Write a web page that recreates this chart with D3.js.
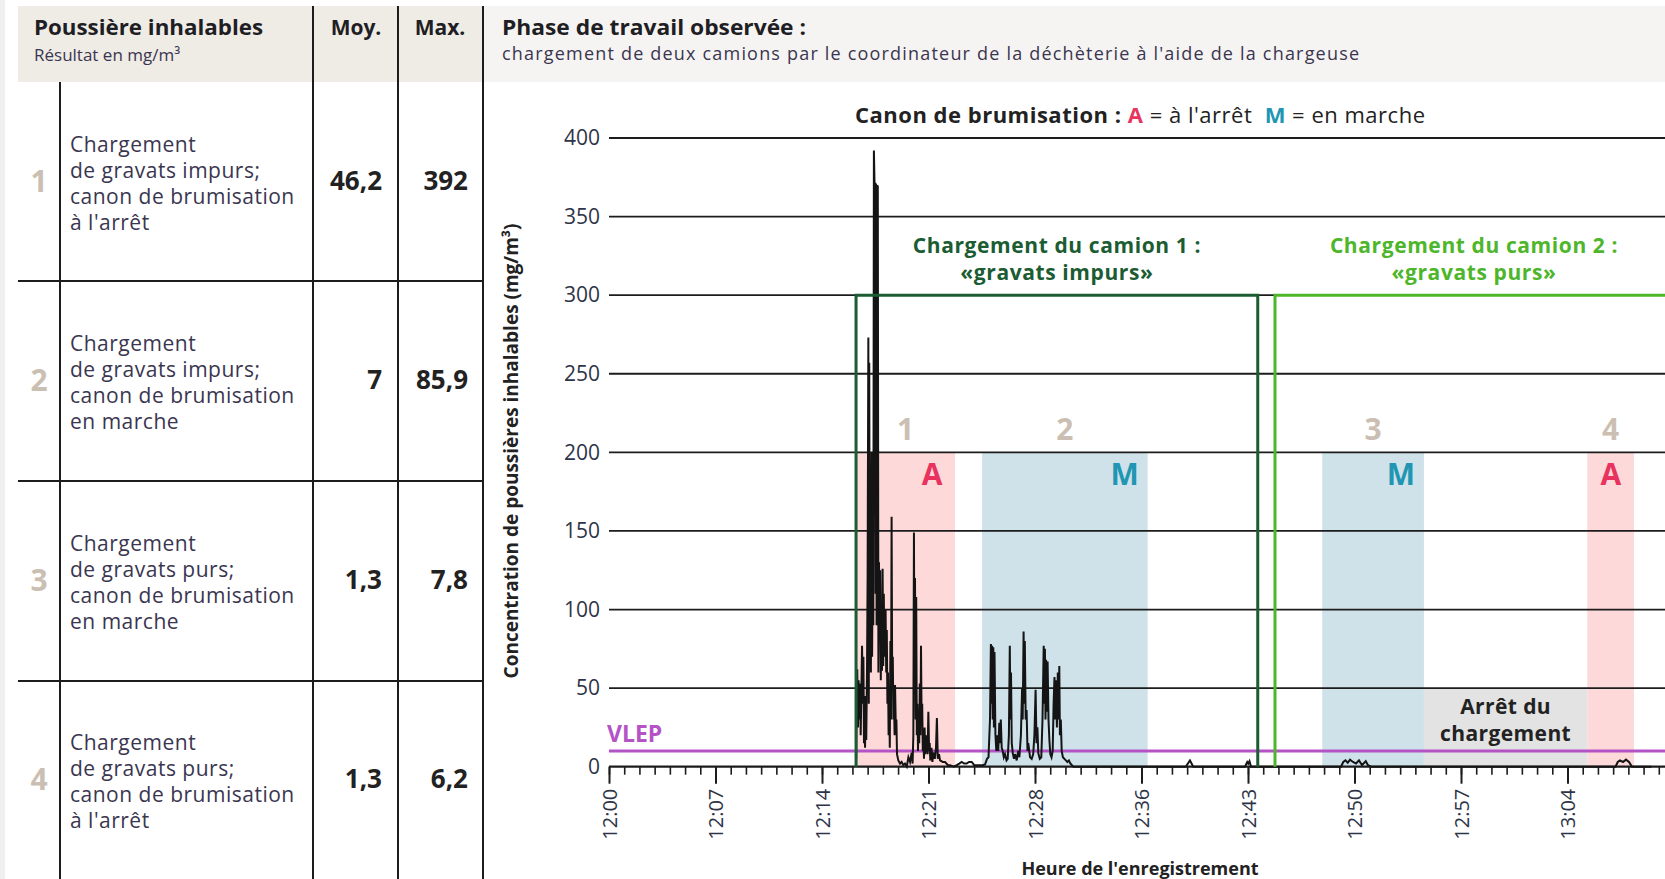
<!DOCTYPE html>
<html><head><meta charset="utf-8">
<script src="https://cdn.jsdelivr.net/npm/d3@7"></script>
<style>
html,body{margin:0;padding:0;background:#fff;}
svg{display:block;font-family:"Open Sans",sans-serif;}
</style></head><body>
<svg id="c" width="1665" height="879"></svg>
<script>
// ---------------- DATA ----------------
const rowNumbers = ["1", "2", "3", "4"];
const rowLabels = [
  ["Chargement", "de gravats impurs;", "canon de brumisation", "à l'arrêt"],
  ["Chargement", "de gravats impurs;", "canon de brumisation", "en marche"],
  ["Chargement", "de gravats purs;", "canon de brumisation", "en marche"],
  ["Chargement", "de gravats purs;", "canon de brumisation", "à l'arrêt"]
];
const meanValues = ["46,2", "7", "1,3", "1,3"];
const maxValues = ["392", "85,9", "7,8", "6,2"];

const yTickValues = [0, 50, 100, 150, 200, 250, 300, 350, 400];
const xTickLabels = ["12:00", "12:07", "12:14", "12:21", "12:28", "12:36", "12:43", "12:50", "12:57", "13:04"];
const xTickStep = 7.1;      // minutes between labelled ticks
const xMinorPerMajor = 7;
const xDomainMax = 70.4;    // minutes after 12:00 at right edge

const vlepValue = 10;

// phases: id, brumisation mode (A/M), start/end in minutes after 12:00
const phaseIds = ["1", "2", "3", "4"];
const phaseModes = ["A", "M", "M", "A"];
const phaseStart = [16.47, 24.87, 47.55, 65.22];
const phaseEnd = [23.07, 35.91, 54.33, 68.33];
const phaseTop = 200;

const stopStart = 54.33, stopEnd = 65.22, stopTop = 50;

const truckTitles = [["Chargement du camion 1 :", "«gravats impurs»"], ["Chargement du camion 2 :", "«gravats purs»"]];
const truckStart = [16.47, 44.4];
const truckEnd = [43.25, 80];
const truckTop = 300;

// measured concentration: [minutes after 12:00, mg/m³]
const dustSamples = [
  [16.48, 5], [16.50, 40], [16.55, 62], [16.60, 25], [16.64, 55], [16.68, 30], [16.73, 53], [16.78, 20],
  [16.82, 45], [16.87, 77], [16.92, 40], [16.96, 70], [17.00, 15], [17.04, 30], [17.07, 12], [17.11, 45],
  [17.15, 17], [17.20, 60], [17.24, 120], [17.29, 273], [17.32, 40], [17.35, 257], [17.38, 100], [17.42, 180],
  [17.46, 60], [17.50, 200], [17.54, 70], [17.58, 140], [17.62, 90], [17.66, 392], [17.70, 372], [17.74, 371],
  [17.77, 110], [17.80, 371], [17.84, 90], [17.88, 370], [17.92, 369], [17.96, 60], [18.00, 130], [18.04, 80],
  [18.08, 125], [18.12, 55], [18.16, 100], [18.20, 61], [18.24, 126], [18.28, 64], [18.32, 110], [18.36, 70],
  [18.40, 83], [18.44, 100], [18.48, 60], [18.52, 87], [18.56, 40], [18.60, 60], [18.64, 20], [18.68, 44],
  [18.72, 12], [18.76, 80], [18.80, 30], [18.84, 159], [18.88, 50], [18.92, 70], [18.96, 30], [19.00, 42],
  [19.04, 20], [19.07, 52], [19.12, 25], [19.16, 30], [19.20, 8], [19.29, 4], [19.40, 2], [19.51, 3],
  [19.62, 1], [19.73, 2], [19.85, 0], [19.96, 6], [20.07, 3], [20.18, 9], [20.24, 2], [20.29, 20],
  [20.33, 149], [20.36, 60], [20.40, 120], [20.44, 30], [20.48, 108], [20.52, 20], [20.56, 40], [20.60, 10],
  [20.64, 30], [20.68, 15], [20.72, 53], [20.76, 20], [20.80, 77], [20.84, 30], [20.88, 40], [20.92, 10],
  [20.96, 17], [21.00, 5], [21.04, 25], [21.08, 8], [21.13, 13], [21.18, 20], [21.24, 8], [21.29, 35],
  [21.34, 10], [21.38, 15], [21.42, 4], [21.50, 12], [21.56, 3], [21.62, 9], [21.72, 5], [21.80, 12],
  [21.86, 31], [21.92, 5], [22.00, 8], [22.07, 4], [22.25, 3], [22.40, 3], [22.60, 1], [22.73, 1],
  [23.00, 0], [23.18, 1], [23.35, 2], [23.51, 3], [23.68, 2], [23.84, 2], [24.00, 3], [24.18, 3],
  [24.35, 1], [24.51, 1], [24.70, 1], [24.90, 1], [25.07, 1.4], [25.20, 5], [25.30, 6], [25.40, 30],
  [25.46, 78], [25.50, 40], [25.54, 77], [25.58, 30], [25.62, 76], [25.66, 25], [25.70, 73], [25.76, 21],
  [25.82, 10], [25.88, 20], [25.95, 10], [26.02, 28], [26.07, 15], [26.12, 30], [26.18, 12], [26.25, 10],
  [26.32, 6], [26.40, 8], [26.50, 4], [26.58, 5], [26.66, 20], [26.72, 77], [26.76, 30], [26.80, 60],
  [26.85, 15], [26.92, 8.5], [27.00, 5], [27.07, 8], [27.18, 4], [27.28, 10], [27.36, 6], [27.46, 20],
  [27.54, 50], [27.58, 30], [27.64, 86], [27.68, 40], [27.72, 80], [27.78, 30], [27.84, 36], [27.90, 10],
  [27.95, 15], [28.07, 6], [28.18, 5], [28.28, 8], [28.36, 20], [28.44, 49], [28.50, 15], [28.56, 25],
  [28.62, 8.5], [28.72, 5], [28.82, 6], [28.90, 30], [28.98, 77], [29.02, 40], [29.06, 75], [29.10, 30],
  [29.14, 68], [29.18, 35], [29.24, 67], [29.30, 30], [29.36, 17], [29.42, 8], [29.50, 6], [29.58, 10],
  [29.64, 40], [29.70, 57], [29.74, 30], [29.80, 55], [29.86, 25], [29.92, 60], [29.97, 30], [30.02, 64],
  [30.06, 20], [30.12, 30], [30.18, 10], [30.26, 6], [30.36, 5], [30.46, 4], [30.56, 3], [30.66, 4],
  [30.76, 2], [30.86, 1], [30.96, 0], [38.45, 0], [38.73, 4], [38.95, 0], [42.40, 0], [42.55, 3],
  [42.62, 2], [42.70, 3.5], [42.80, 0], [48.80, 0], [48.95, 3], [49.10, 4], [49.25, 2.5], [49.40, 4.5],
  [49.60, 3], [49.80, 2], [50.00, 4], [50.20, 1], [50.45, 3.5], [50.60, 1], [50.80, 0], [67.10, 0],
  [67.25, 3], [67.40, 4], [67.60, 3], [67.80, 4.5], [68.00, 3], [68.20, 0], [69.50, 0]
];

// ---------------- DRAWING ----------------
const svg = d3.select("#c");
const ink = "#1c1c1c";
const txt = "#3a3650";
const beigeNum = "#cbbfb3";
const colA = "#e8335f", colM = "#2196b3";
const darkGreen = "#1b5c32", lightGreen = "#4db62a";
const vlepCol = "#b453c6";

// page strip + headers
svg.append("rect").attr("x", 0).attr("y", 0).attr("width", 5).attr("height", 879).attr("fill", "#efefef");
svg.append("rect").attr("x", 18).attr("y", 6).attr("width", 465).attr("height", 76).attr("fill", "#efebe5");
svg.append("rect").attr("x", 483).attr("y", 6).attr("width", 1182).attr("height", 76).attr("fill", "#f5f4f2");

svg.append("text").attr("x", 34).attr("y", 35).attr("font-size", 21).attr("font-weight", 700).attr("fill", "#1e1e24")
  .attr("textLength", 229).attr("lengthAdjust", "spacingAndGlyphs").text("Poussière inhalables");
svg.append("text").attr("x", 34).attr("y", 61).attr("font-size", 17).attr("fill", txt).text("Résultat en mg/m³");
svg.append("text").attr("x", 356).attr("y", 35).attr("text-anchor", "middle").attr("font-size", 21).attr("font-weight", 700).attr("fill", "#1e1e24").text("Moy.");
svg.append("text").attr("x", 440).attr("y", 35).attr("text-anchor", "middle").attr("font-size", 21).attr("font-weight", 700).attr("fill", "#1e1e24").text("Max.");
svg.append("text").attr("x", 502).attr("y", 35).attr("font-size", 21).attr("font-weight", 700).attr("fill", "#1e1e24")
  .attr("textLength", 304).attr("lengthAdjust", "spacingAndGlyphs").text("Phase de travail observée :");
svg.append("text").attr("x", 502).attr("y", 60).attr("font-size", 18).attr("fill", txt)
  .attr("textLength", 857).attr("lengthAdjust", "spacing").text("chargement de deux camions par le coordinateur de la déchèterie à l'aide de la chargeuse");

// table lines
const tl = svg.append("g").attr("stroke", ink).attr("stroke-width", 2);
[313, 398, 483].forEach(x => tl.append("line").attr("x1", x).attr("x2", x).attr("y1", 6).attr("y2", 879));
tl.append("line").attr("x1", 60).attr("x2", 60).attr("y1", 82).attr("y2", 879);
[281, 481, 681].forEach(y => tl.append("line").attr("x1", 18).attr("x2", 483).attr("y1", y).attr("y2", y));

const rowTop = [82, 281, 481, 681];
const rowBottom = [281, 481, 681, 879];
rowNumbers.forEach((n, i) => {
  const cy = (rowTop[i] + rowBottom[i]) / 2;
  svg.append("text").attr("x", 39).attr("y", cy + 10).attr("text-anchor", "middle").attr("font-size", 30)
    .attr("font-weight", 700).attr("fill", beigeNum).text(n);
  rowLabels[i].forEach((line, j) => {
    svg.append("text").attr("x", 70).attr("y", cy - 30 + j * 26).attr("font-size", 21)
      .attr("letter-spacing", 0.5).attr("fill", txt).text(line);
  });
  svg.append("text").attr("x", 382).attr("y", cy + 8).attr("text-anchor", "end").attr("font-size", 26)
    .attr("font-weight", 700).attr("fill", "#222").text(meanValues[i]);
  svg.append("text").attr("x", 468).attr("y", cy + 8).attr("text-anchor", "end").attr("font-size", 26)
    .attr("font-weight", 700).attr("fill", "#222").text(maxValues[i]);
});

// chart scales
const x = d3.scaleLinear().domain([0, xDomainMax]).range([609, 1665]);
const y = d3.scaleLinear().domain([0, 400]).range([766.7, 138]);

const chart = svg.append("g");

// phase bands
phaseIds.forEach((id, i) => {
  chart.append("rect").attr("x", x(phaseStart[i])).attr("y", y(phaseTop))
    .attr("width", x(phaseEnd[i]) - x(phaseStart[i])).attr("height", y(0) - y(phaseTop))
    .attr("fill", phaseModes[i] === "A" ? "#fdd9d9" : "#cfe2ea");
});
chart.append("rect").attr("x", x(stopStart)).attr("y", y(stopTop))
  .attr("width", x(stopEnd) - x(stopStart)).attr("height", y(0) - y(stopTop)).attr("fill", "#e3e3e3");

// gridlines
chart.append("g").selectAll("line").data(yTickValues.filter(d => d > 0)).join("line")
  .attr("x1", 609).attr("x2", 1665).attr("y1", d => y(d)).attr("y2", d => y(d))
  .attr("stroke", ink).attr("stroke-width", 1.8);

// y axis labels
const yAxis = chart.append("g").attr("transform", "translate(609,0)")
  .call(d3.axisLeft(y).tickValues(yTickValues).tickSize(0).tickPadding(9));
yAxis.select(".domain").remove();
yAxis.selectAll("text").attr("font-size", 21).attr("font-family", "Open Sans").attr("fill", "#2e3447");

// x axis
const majors = xTickLabels.map((d, i) => i * xTickStep);
const minors = d3.range(0, xDomainMax, xTickStep / xMinorPerMajor);
const xMinor = chart.append("g").attr("transform", `translate(0,${y(0)})`)
  .call(d3.axisBottom(x).tickValues(minors).tickSize(8).tickFormat(""));
xMinor.select(".domain").remove();
xMinor.selectAll("line").attr("stroke", ink).attr("stroke-width", 1.6);
const xAxis = chart.append("g").attr("transform", `translate(0,${y(0)})`)
  .call(d3.axisBottom(x).tickValues(majors).tickSize(17).tickFormat((d, i) => xTickLabels[i]));
xAxis.select(".domain").remove();
xAxis.selectAll("line").attr("stroke", ink).attr("stroke-width", 2);
xAxis.selectAll("text").attr("transform", "rotate(-90)").attr("text-anchor", "end")
  .attr("x", -22).attr("y", 0).attr("dy", "0.36em")
  .attr("font-size", 20).attr("font-family", "Open Sans").attr("fill", "#2e3447");
chart.append("line").attr("x1", 609).attr("x2", 1665).attr("y1", y(0)).attr("y2", y(0))
  .attr("stroke", ink).attr("stroke-width", 2.2);

// VLEP
chart.append("line").attr("x1", 609).attr("x2", 1665).attr("y1", y(vlepValue)).attr("y2", y(vlepValue))
  .attr("stroke", vlepCol).attr("stroke-width", 3);
chart.append("text").attr("x", 607).attr("y", 742).attr("font-size", 23).attr("font-weight", 700)
  .attr("fill", vlepCol).text("VLEP");

// data line
const line = d3.line().x(d => x(d[0])).y(d => y(d[1]));
chart.append("path").datum(dustSamples).attr("d", line).attr("fill", "none")
  .attr("stroke", "#141414").attr("stroke-width", 2).attr("stroke-linejoin", "miter");

// truck boxes
[darkGreen, lightGreen].forEach((c, i) => {
  const x0 = x(truckStart[i]), x1 = x(truckEnd[i]);
  chart.append("path").attr("d", `M${x0},${y(0)}V${y(truckTop)}H${x1}V${y(0)}`)
    .attr("fill", "none").attr("stroke", c).attr("stroke-width", 3);
  const cx = i === 0 ? (x0 + x1) / 2 : x0 + 199;
  truckTitles[i].forEach((t, j) => {
    chart.append("text").attr("x", cx).attr("y", 253 + j * 27).attr("text-anchor", "middle")
      .attr("font-size", 21).attr("letter-spacing", 0.6).attr("font-weight", 700).attr("fill", c).text(t);
  });
});

// phase labels
phaseIds.forEach((id, i) => {
  chart.append("text").attr("x", (x(phaseStart[i]) + x(phaseEnd[i])) / 2).attr("y", 440)
    .attr("text-anchor", "middle").attr("font-size", 30).attr("font-weight", 700).attr("fill", beigeNum).text(id);
  chart.append("text").attr("x", x(phaseEnd[i]) - 23).attr("y", 485)
    .attr("text-anchor", "middle").attr("font-size", 30).attr("font-weight", 700)
    .attr("fill", phaseModes[i] === "A" ? colA : colM).text(phaseModes[i]);
});

// stop label
["Arrêt du", "chargement"].forEach((t, j) => {
  chart.append("text").attr("x", (x(stopStart) + x(stopEnd)) / 2).attr("y", 714 + j * 27)
    .attr("text-anchor", "middle").attr("font-size", 21).attr("letter-spacing", 0.4).attr("font-weight", 700).attr("fill", "#222").text(t);
});

// legend
const lg = chart.append("text").attr("x", 855).attr("y", 123).attr("font-size", 22).attr("fill", "#222")
  .attr("textLength", 570).attr("lengthAdjust", "spacing");
lg.append("tspan").attr("font-weight", 700).text("Canon de brumisation :\u00a0");
lg.append("tspan").attr("font-weight", 700).attr("fill", colA).text("A");
lg.append("tspan").text("\u00a0= à l'arrêt\u00a0\u00a0");
lg.append("tspan").attr("font-weight", 700).attr("fill", colM).text("M");
lg.append("tspan").text("\u00a0= en marche");

// axis titles
chart.append("text").attr("transform", "translate(518,451) rotate(-90)").attr("text-anchor", "middle")
  .attr("font-size", 19).attr("font-weight", 700).attr("fill", "#222")
  .text("Concentration de poussières inhalables (mg/m³)");
chart.append("text").attr("x", 1140).attr("y", 875).attr("text-anchor", "middle")
  .attr("font-size", 18).attr("font-weight", 700).attr("fill", "#222").text("Heure de l'enregistrement");
</script>
</body></html>
